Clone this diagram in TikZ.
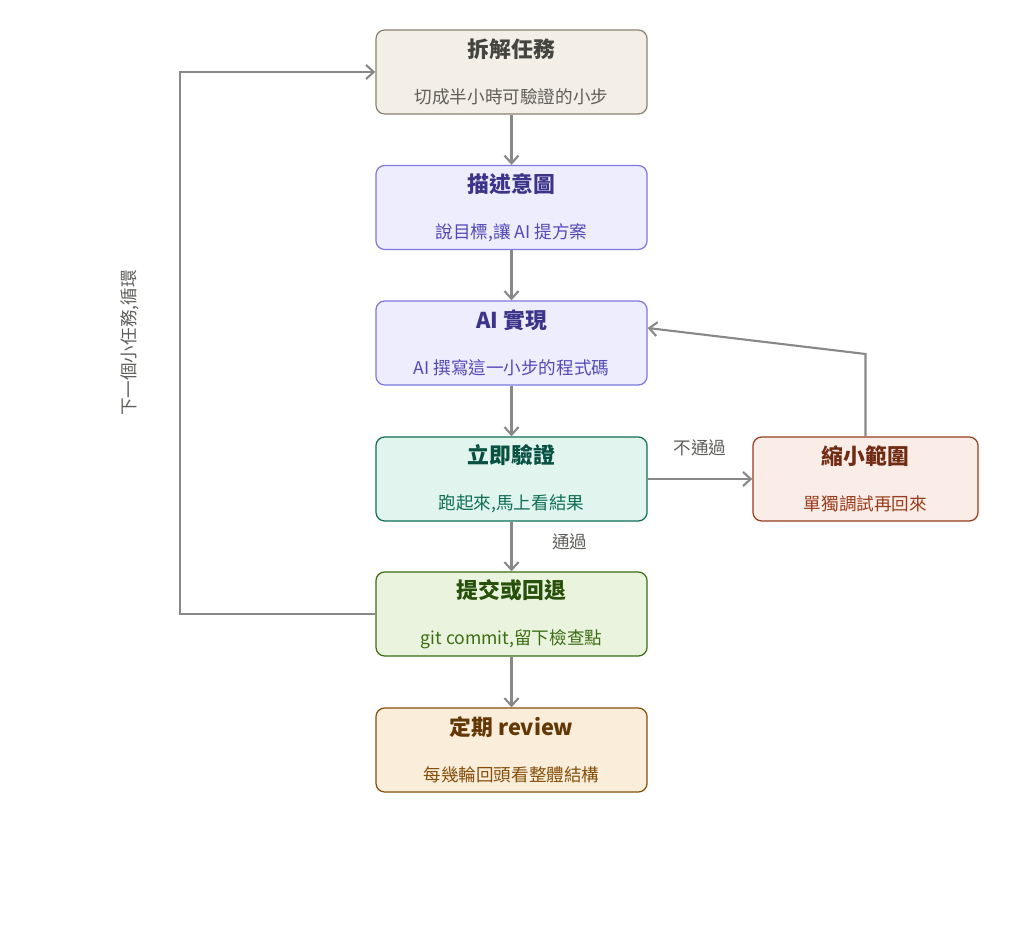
\documentclass[tikz,border=0pt]{standalone}
\usepackage{fontspec}
\setmainfont{Noto Sans CJK TC}
\usetikzlibrary{arrows.meta, positioning}
\definecolor{arrowgray}{HTML}{888888}
\definecolor{splitfill}{HTML}{F3EFE7}\definecolor{splitdraw}{HTML}{8A8170}\definecolor{splittext}{HTML}{444441}\definecolor{splitsub}{HTML}{5F5E5A}
\definecolor{aifill}{HTML}{EEEDFE}\definecolor{aidraw}{HTML}{7F77DD}\definecolor{aitext}{HTML}{3C3489}\definecolor{aisub}{HTML}{534AB7}
\definecolor{testfill}{HTML}{E1F5EE}\definecolor{testdraw}{HTML}{0F6E56}\definecolor{testtext}{HTML}{085041}\definecolor{testsub}{HTML}{0F6E56}
\definecolor{fixfill}{HTML}{FAECE7}\definecolor{fixdraw}{HTML}{993C1D}\definecolor{fixtext}{HTML}{712B13}\definecolor{fixsub}{HTML}{993C1D}
\definecolor{commitfill}{HTML}{EAF3DE}\definecolor{commitdraw}{HTML}{3B6D11}\definecolor{committext}{HTML}{27500A}\definecolor{commitsub}{HTML}{3B6D11}
\definecolor{reviewfill}{HTML}{FAEEDA}\definecolor{reviewdraw}{HTML}{854F0B}\definecolor{reviewtext}{HTML}{633806}\definecolor{reviewsub}{HTML}{854F0B}
\newcommand{\steptext}[3]{{\color{#1text}\fontsize{6.2}{8}\selectfont\bfseries #2}\\[1pt]{\color{#1sub}\fontsize{5}{7}\selectfont #3}}
\begin{document}
\begin{tikzpicture}[
    x=0.01cm, y=-0.01cm,
    step/.style={draw=#1draw, line width=0.35pt, fill=#1fill, minimum width=2.71cm, minimum height=0.84cm, rounded corners=2.5pt, align=center, inner sep=1pt},
    flow/.style={draw=arrowgray, line width=0.6pt, -{Straight Barb[length=2.2pt,width=4pt]}},
    note/.style={text=splitsub, font=\fontsize{5}{6}\selectfont}
]
    \useasboundingbox (0,0) rectangle (1024,934);
    % Steps
    \node[step=split] (split) at (511.5,72) {\steptext{split}{拆解任務}{切成半小時可驗證的小步}};
    \node[step=ai] (intent) at (511.5,207.5) {\steptext{ai}{描述意圖}{說目標,讓 AI 提方案}};
    \node[step=ai] (impl) at (511.5,343) {\steptext{ai}{AI 實現}{AI 撰寫這一小步的程式碼}};
    \node[step=test] (check) at (511.5,479) {\steptext{test}{立即驗證}{跑起來,馬上看結果}};
    \node[step=fix, minimum width=2.25cm] (narrow) at (865.5,479) {\steptext{fix}{縮小範圍}{單獨調試再回來}};
    \node[step=commit] (commit) at (511.5,614) {\steptext{commit}{提交或回退}{git commit,留下檢查點}};
    \node[step=review] (review) at (511.5,750) {\steptext{review}{定期 review}{每幾輪回頭看整體結構}};
    % Connections
    \draw[flow] (split) -- (intent);
    \draw[flow] (intent) -- (impl);
    \draw[flow] (impl) -- (check);
    \draw[flow] (check) -- node[note, right=8pt, pos=0.4] {通過} (commit);
    \draw[flow] (commit) -- (review);
    \draw[flow] (check) -- node[note, above=3pt] {不通過} (narrow);
    \coordinate (bend) at (865.5,354);
    \draw[flow] (narrow) -- (bend) -- (impl.east |- 0,328);
    \coordinate (loopbot) at (180,614);
    \coordinate (looptop) at (180,72);
    \draw[flow] (commit.west) -- (loopbot) -- (looptop) -- (split.west);
    \node[note, rotate=90] (looplabel) at (130,343) {下一個小任務,循環};
\end{tikzpicture}
\end{document}
